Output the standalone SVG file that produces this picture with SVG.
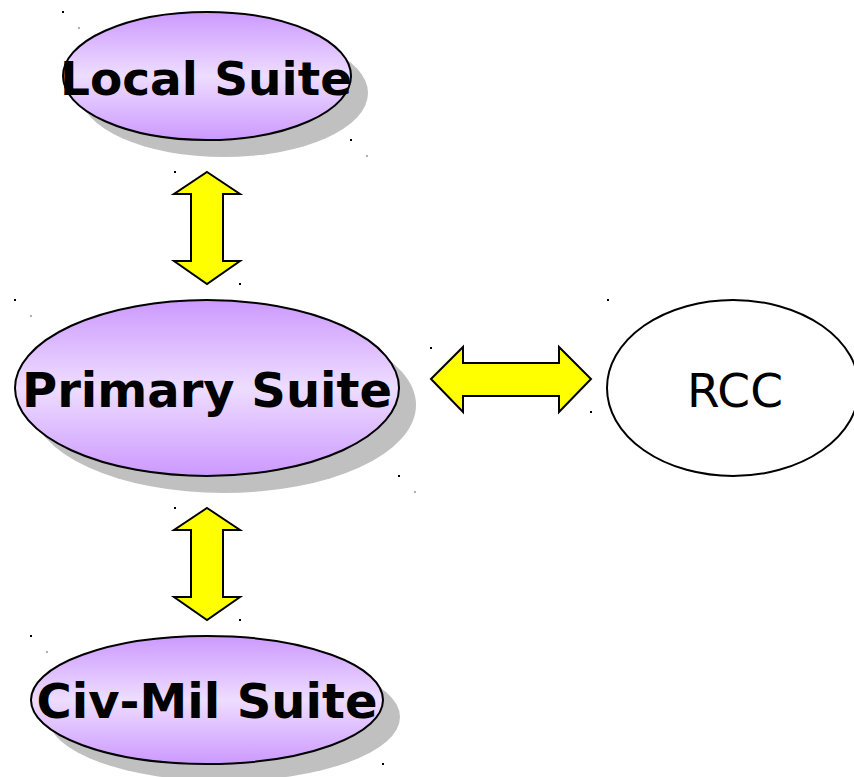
<svg xmlns="http://www.w3.org/2000/svg" width="854" height="777" viewBox="0 0 854 777">
<style>
.shadow{fill:#c0c0c0;stroke:none}
.suite{fill:url(#g);stroke:#000;stroke-width:2}
.lbl{font-family:"DejaVu Sans",sans-serif;font-weight:bold;font-size:48px;text-anchor:middle;fill:#000}
.arrow{fill:#ffff00;stroke:#000;stroke-width:2;stroke-linejoin:miter}
.dk{fill:#000}
.lt{fill:#b0b0b0}
</style>
<defs>
<linearGradient id="g" x1="0" y1="0" x2="0" y2="1">
<stop offset="0" stop-color="#cc99ff"/>
<stop offset="0.5" stop-color="#eeddff"/>
<stop offset="1" stop-color="#cc99ff"/>
</linearGradient>
</defs>
<rect width="854" height="777" fill="#fff"/>
<g id="local-suite">
<ellipse class="shadow" cx="224" cy="93" rx="144" ry="64"/>
<ellipse class="suite" cx="207" cy="76" rx="144" ry="64"/>
<text class="lbl" x="206" y="95" style="font-size:47px">Local Suite</text>
<rect class="dk" x="62" y="11" width="2" height="2"/>
<rect class="lt" x="78" y="27" width="2" height="2"/>
<rect class="dk" x="350" y="139" width="2" height="2"/>
<rect class="lt" x="366" y="155" width="2" height="2"/>
</g>
<g id="primary-suite">
<ellipse class="shadow" cx="224" cy="405" rx="192" ry="88"/>
<ellipse class="suite" cx="207" cy="388" rx="192" ry="88"/>
<text class="lbl" x="207" y="407">Primary Suite</text>
<rect class="dk" x="14" y="299" width="2" height="2"/>
<rect class="lt" x="30" y="315" width="2" height="2"/>
<rect class="dk" x="398" y="475" width="2" height="2"/>
<rect class="lt" x="414" y="491" width="2" height="2"/>
</g>
<g id="civmil-suite">
<ellipse class="shadow" cx="224" cy="717" rx="176" ry="64"/>
<ellipse class="suite" cx="207" cy="700" rx="176" ry="64"/>
<text class="lbl" x="207" y="718">Civ-Mil Suite</text>
<rect class="dk" x="30" y="635" width="2" height="2"/>
<rect class="lt" x="46" y="651" width="2" height="2"/>
<rect class="dk" x="382" y="763" width="2" height="2"/>
</g>
<g id="rcc">
<ellipse cx="733" cy="388" rx="126" ry="88" fill="#fff" stroke="#000" stroke-width="2"/>
<text x="735" y="407" font-family="DejaVu Sans, sans-serif" font-size="47" text-anchor="middle" fill="#000">RCC</text>
<rect class="dk" x="607" y="299" width="2" height="2"/>
</g>
<g id="connectors">
<polygon class="arrow" points="207,172 240,194 223,194 223,261 240,261 207,284 174,261 191,261 191,194 174,194"/>
<rect class="dk" x="174" y="171" width="2" height="2"/>
<rect class="dk" x="239" y="283" width="2" height="2"/>
<polygon class="arrow" points="207,508 240,530 223,530 223,597 240,597 207,620 174,597 191,597 191,530 174,530"/>
<rect class="dk" x="174" y="507" width="2" height="2"/>
<rect class="dk" x="239" y="619" width="2" height="2"/>
<polygon class="arrow" points="431,379 463,347 463,363 559,363 559,347 591,379 559,412 559,396 463,396 463,412"/>
<rect class="dk" x="430" y="347" width="2" height="2"/>
<rect class="dk" x="590" y="411" width="2" height="2"/>
</g>
</svg>
